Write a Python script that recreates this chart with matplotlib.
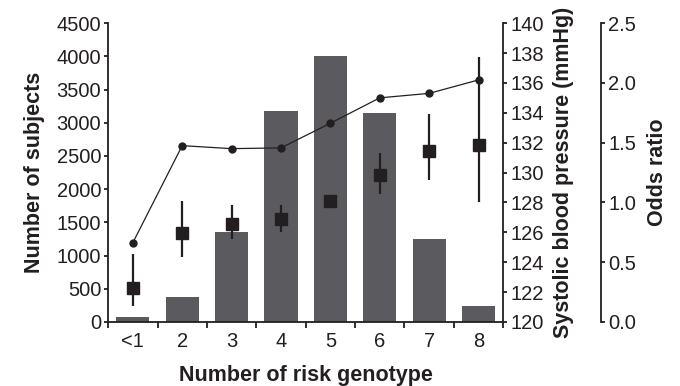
import matplotlib
matplotlib.use("Agg")
import matplotlib.pyplot as plt
import numpy as np

plt.rcParams['font.family'] = ['Liberation Sans', 'DejaVu Sans']

# data
categories = ['<1', '2', '3', '4', '5', '6', '7', '8']
subjects = [70, 370, 1360, 3170, 4010, 3150, 1245, 235]
sbp = [125.3, 131.8, 131.6, 131.65, 133.3, 135.0, 135.3, 136.2]
odds = [0.28, 0.74, 0.82, 0.86, 1.01, 1.23, 1.43, 1.48]
odds_lo = [0.13, 0.54, 0.69, 0.75, 1.01, 1.07, 1.19, 1.00]
odds_hi = [0.57, 1.01, 0.98, 0.98, 1.01, 1.41, 1.74, 2.22]

dark = '#231f20'
bar_col = '#5b5b5f'
tick_fs = 14.5
lab_fs = 15.5

fig = plt.figure(figsize=(6.8, 3.86), dpi=100)
ax = fig.add_axes([0.159, 0.166, 0.581, 0.774])
x = np.arange(len(categories))

ax.bar(x, subjects, width=0.67, color=bar_col, zorder=1)
ax.set_xlim(-0.5, len(categories) - 0.5)
ax.set_ylim(0, 4500)
ax.set_yticks(np.arange(0, 4501, 500))
ax.set_xticks(x)
ax.set_xticklabels(categories)
ax.set_xticks(np.arange(-0.5, len(categories)), minor=True)
ax.tick_params(axis='x', which='major', length=0, labelsize=tick_fs, pad=7, colors=dark)
ax.tick_params(axis='x', which='minor', length=4, width=1.3, color=dark, direction='out')
ax.tick_params(axis='y', length=3, width=1.3, labelsize=tick_fs, colors=dark, pad=2)
for s in ['top', 'right']:
    ax.spines[s].set_visible(False)
for s in ['left', 'bottom']:
    ax.spines[s].set_linewidth(1.3)
    ax.spines[s].set_color(dark)
ax.set_ylabel('Number of subjects', fontsize=lab_fs, fontweight='bold', color=dark, labelpad=8)
ax.set_xlabel('Number of risk genotype', fontsize=lab_fs, fontweight='bold', color=dark, labelpad=10)

# systolic blood pressure axis
ax2 = ax.twinx()
ax2.plot(x, sbp, color=dark, lw=0.9, marker='o', ms=5, zorder=3)
ax2.set_ylim(120, 140)
ax2.set_yticks(np.arange(120, 141, 2))
for s in ['top', 'left', 'bottom']:
    ax2.spines[s].set_visible(False)
ax2.spines['right'].set_linewidth(1.3)
ax2.spines['right'].set_color(dark)
ax2.tick_params(axis='y', length=3, width=1.3, labelsize=tick_fs, colors=dark, pad=2)
ax2.set_ylabel('Systolic blood pressure (mmHg)', fontsize=lab_fs, fontweight='bold',
               color=dark, labelpad=7)

# odds ratio axis
ax3 = ax.twinx()
ax3.spines['right'].set_position(('outward', 70.5))
err = [np.array(odds) - np.array(odds_lo), np.array(odds_hi) - np.array(odds)]
ax3.errorbar(x, odds, yerr=err, fmt='s', color=dark, ms=8.5, elinewidth=1.6,
             capsize=0, zorder=4)
ax3.set_ylim(0, 2.5)
ax3.set_yticks(np.arange(0, 2.51, 0.5))
ax3.set_yticklabels(['%.1f' % v for v in np.arange(0, 2.51, 0.5)])
for s in ['top', 'left', 'bottom']:
    ax3.spines[s].set_visible(False)
ax3.spines['right'].set_linewidth(1.3)
ax3.spines['right'].set_color(dark)
ax3.tick_params(axis='y', length=3, width=1.3, labelsize=tick_fs, colors=dark, pad=2)
ax3.set_ylabel('Odds ratio', fontsize=lab_fs, fontweight='bold', color=dark, labelpad=8)

fig.savefig('out.png', dpi=100)
